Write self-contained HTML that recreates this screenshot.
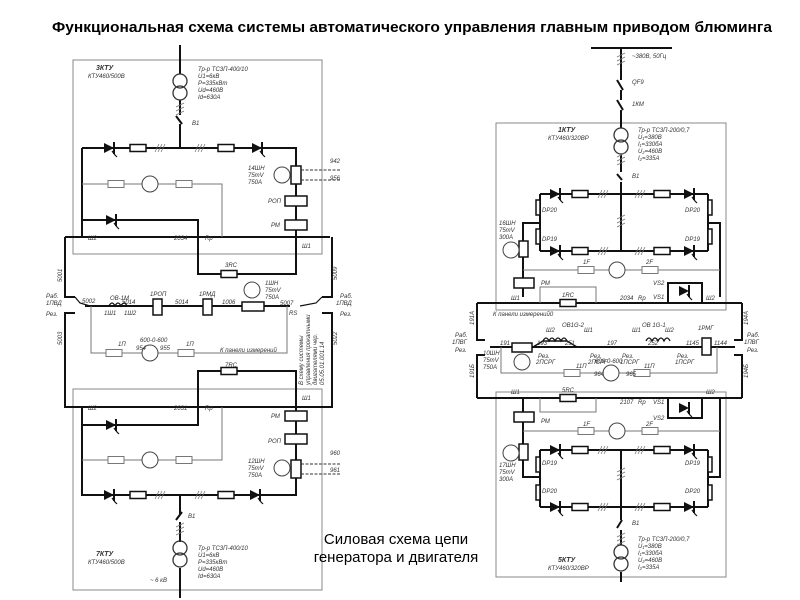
<!DOCTYPE html>
<html><head><meta charset="utf-8"><style>
html,body{margin:0;padding:0;background:#fff;}
svg{display:block}
.t{font-family:"Liberation Sans",sans-serif;font-style:italic;font-size:6px;fill:#333}
</style></head><body>
<svg width="800" height="600" viewBox="0 0 800 600" xmlns="http://www.w3.org/2000/svg">
<defs>
<g id="thy"><path d="M-6,-5 L4,0 L-6,5 Z" fill="#111"/><line x1="4" y1="-6" x2="4" y2="6" stroke="#111" stroke-width="2"/><polyline points="2,3 5,7 7,9" fill="none" stroke="#111" stroke-width="1.2"/></g>
<g id="fuse"><rect x="-8" y="-3.5" width="16" height="7" fill="#fff" stroke="#111" stroke-width="1.5"/></g>
<g id="fuseg"><rect x="-8" y="-3.5" width="16" height="7" fill="#fff" stroke="#777" stroke-width="1"/></g>
<g id="meter"><circle r="8" fill="#fff" stroke="#444" stroke-width="1"/></g>
<g id="hatch" stroke="#777" stroke-width="0.8"><line x1="-5" y1="4" x2="-1" y2="-4"/><line x1="-2" y1="4" x2="2" y2="-4"/><line x1="1" y1="4" x2="5" y2="-4"/></g>
<g id="hatchv" stroke="#777" stroke-width="0.8"><line x1="-4" y1="-3" x2="4" y2="-7"/><line x1="-4" y1="1" x2="4" y2="-3"/><line x1="-4" y1="5" x2="4" y2="1"/></g>
</defs>

<text x="52" y="32" textLength="720" lengthAdjust="spacingAndGlyphs" font-family="Liberation Sans,sans-serif" font-weight="bold" font-size="15" fill="#000">Функциональная схема системы автоматического управления главным приводом блюминга</text>

<!-- ===== LEFT ===== -->
<g fill="none" stroke="#888" stroke-width="1">
<rect x="73" y="60" width="249" height="194"/>
<rect x="73" y="389" width="249" height="201"/>
</g>
<g fill="none" stroke="#111" stroke-width="2">
<line x1="180" y1="45" x2="180" y2="74"/>
<line x1="180" y1="100" x2="180" y2="115"/>
<line x1="180" y1="124" x2="180" y2="148"/>
<line x1="176" y1="116" x2="182" y2="124"/>
<polyline points="82,148 296,148 296,274 198,274 198,237"/>
<polyline points="82,148 82,237"/>
<polyline points="82,220 198,220 198,237"/>
<polyline points="65,237 330,237"/>
<polyline points="65,237 65,297 75,297"/>
<polyline points="65,382 65,313 75,313"/>
<polyline points="332,237 332,297 322,297"/>
<polyline points="332,382 332,313 322,313"/>
<polyline points="85,306 290,306"/>
<polyline points="65,382 65,407 330,407 332,407 332,382"/>
<polyline points="198,407 198,371 296,371 296,495 82,495 82,407"/>
<polyline points="82,425 198,425 198,407"/>
<line x1="180" y1="495" x2="180" y2="514"/>
<line x1="176" y1="520" x2="182" y2="512"/>
<line x1="180" y1="522" x2="180" y2="542"/>
<line x1="180" y1="568" x2="180" y2="598"/>
</g>
<g stroke="#111" stroke-width="1.2" fill="none">
<polyline points="75,297 80,303 90,306"/>
<polyline points="322,297 316,303 300,306"/>
</g>
<g fill="none" stroke="#333" stroke-width="1.3">
<circle cx="180" cy="81" r="7"/><circle cx="180" cy="93" r="7"/>
<circle cx="180" cy="548" r="7"/><circle cx="180" cy="560" r="7"/>
</g>
<g fill="none" stroke="#777" stroke-width="1">
<polyline points="82,184 222,184 222,237"/>
<polyline points="82,460 222,460 222,407"/>
<polyline points="91,306 91,353 287,353 287,306"/>
</g>
<use href="#thy" x="110" y="148"/><use href="#thy" x="258" y="148"/>
<use href="#fuse" x="138" y="148"/><use href="#fuse" x="226" y="148"/>
<use href="#hatch" x="160" y="148"/><use href="#hatch" x="200" y="148"/>
<use href="#hatchv" x="180" y="110"/><use href="#hatchv" x="180" y="530"/>
<use href="#fuseg" x="116" y="184"/><use href="#fuseg" x="184" y="184"/><use href="#meter" x="150" y="184"/>
<use href="#thy" x="112" y="220"/>
<use href="#fuse" x="229" y="274"/>
<use href="#fuse" x="229" y="371"/>
<use href="#thy" x="112" y="425"/>
<use href="#fuseg" x="116" y="460"/><use href="#fuseg" x="184" y="460"/><use href="#meter" x="150" y="460"/>
<use href="#thy" x="110" y="495"/><use href="#thy" x="256" y="495"/>
<use href="#fuse" x="138" y="495"/><use href="#fuse" x="226" y="495"/>
<use href="#hatch" x="160" y="495"/><use href="#hatch" x="200" y="495"/>
<use href="#fuseg" x="114" y="353"/><use href="#fuseg" x="186" y="353"/><use href="#meter" x="150" y="353"/>
<g fill="#fff" stroke="#111" stroke-width="1.5">
<rect x="291" y="166" width="10" height="18"/>
<rect x="285" y="196" width="22" height="10"/>
<rect x="285" y="220" width="22" height="10"/>
<rect x="285" y="411" width="22" height="10"/>
<rect x="285" y="434" width="22" height="10"/>
<rect x="291" y="460" width="10" height="18"/>
<rect x="153" y="299" width="9" height="16"/>
<rect x="203" y="299" width="9" height="16"/>
<rect x="242" y="302" width="22" height="9"/>
</g>
<g stroke="#333" stroke-width="1" stroke-dasharray="3,1.5" fill="none">
<line x1="301" y1="170" x2="340" y2="170"/><line x1="301" y1="180" x2="340" y2="180"/>
<line x1="301" y1="464" x2="340" y2="464"/><line x1="301" y1="474" x2="340" y2="474"/>
</g>
<use href="#meter" x="282" y="175"/><use href="#meter" x="282" y="468"/><use href="#meter" x="252" y="290"/>
<path d="M109,306 q3,-6 6,0 q3,-6 6,0 q3,-6 6,0" fill="none" stroke="#111" stroke-width="1.3"/>
<g class="t">
<text x="96" y="70" font-weight="bold" font-size="7">3КТУ</text><text x="88" y="78">КТУ460/500В</text>
<text x="198" y="71">Тр-р ТС3П-400/10</text><text x="198" y="78">U1=6кВ</text><text x="198" y="85">P=335кВт</text><text x="198" y="92">Ud=460В</text><text x="198" y="99">Id=630A</text>
<text x="192" y="125">B1</text>
<text x="248" y="170">14ШН</text><text x="248" y="177">75mV</text><text x="248" y="184">750A</text>
<text x="268" y="203">РОП</text><text x="271" y="227">РМ</text>
<text x="88" y="240">Ш2</text><text x="174" y="240">2034</text><text x="205" y="240">Rp</text><text x="302" y="248">Ш1</text>
<text x="225" y="267">3RC</text><text x="330" y="163">942</text><text x="330" y="180">956</text>
<text x="82" y="303">5002</text><text x="110" y="300">OB-1M</text><text x="104" y="315">1Ш1</text><text x="124" y="315">1Ш2</text>
<text x="122" y="304">5014</text><text x="150" y="296">1РОП</text><text x="175" y="304">5014</text><text x="199" y="296">1РМД</text><text x="222" y="304">1006</text>
<text x="265" y="285">1ШН</text><text x="265" y="292">75mV</text><text x="265" y="299">750A</text><text x="280" y="305">5007</text><text x="289" y="315">RS</text>
<text x="118" y="346">1П</text><text x="140" y="342">600-0-600</text><text x="136" y="350">954</text><text x="160" y="350">955</text><text x="186" y="346">1П</text>
<text x="220" y="352">К панели измерений</text>
<text x="46" y="298">Раб.</text><text x="46" y="305">1ПВД</text><text x="46" y="316">Рез.</text>
<text x="340" y="298">Раб.</text><text x="336" y="305">1ПВД</text><text x="340" y="316">Рез.</text>
<text x="225" y="367">7RC</text>
<text x="88" y="410">Ш2</text><text x="174" y="410">2031</text><text x="205" y="410">Rp</text><text x="302" y="400">Ш1</text>
<text x="271" y="418">РМ</text><text x="268" y="443">РОП</text>
<text x="248" y="463">12ШН</text><text x="248" y="470">75mV</text><text x="248" y="477">750A</text>
<text x="330" y="455">960</text><text x="330" y="472">961</text><text x="188" y="518">B1</text>
<text x="96" y="556" font-weight="bold" font-size="7">7КТУ</text><text x="88" y="564">КТУ460/500В</text><text x="150" y="582">~ 6 кВ</text>
<text x="198" y="550">Тр-р ТС3П-400/10</text><text x="198" y="557">U1=6кВ</text><text x="198" y="564">P=335кВт</text><text x="198" y="571">Ud=460В</text><text x="198" y="578">Id=630A</text>
<text transform="translate(62,282) rotate(-90)">5001</text><text transform="translate(62,345) rotate(-90)">5003</text>
<text transform="translate(337,280) rotate(-90)">5009</text><text transform="translate(337,345) rotate(-90)">5022</text>
<text transform="translate(303,385) rotate(-90)">В схему системы</text><text transform="translate(310,385) rotate(-90)">управления прокатными</text><text transform="translate(317,385) rotate(-90)">двигателями чер.</text><text transform="translate(324,385) rotate(-90)">05.05.01.001.14</text>
</g>

<!-- ===== RIGHT ===== -->
<g fill="none" stroke="#888" stroke-width="1">
<rect x="496" y="123" width="230" height="187"/>
<rect x="496" y="392" width="230" height="185"/>
</g>
<g fill="none" stroke="#111" stroke-width="2">
<line x1="591" y1="48" x2="672" y2="48"/>
<polyline points="621,48 621,80"/><line x1="617" y1="80" x2="623" y2="90"/><polyline points="621,90 621,100"/><line x1="617" y1="100" x2="623" y2="110"/><line x1="621" y1="110" x2="621" y2="128"/>
<line x1="621" y1="155" x2="621" y2="172"/><line x1="617" y1="174" x2="622" y2="180"/><line x1="621" y1="182" x2="621" y2="251"/>
<polyline points="540,194 708,194"/><polyline points="540,251 708,251"/>
<polyline points="540,194 540,251"/><polyline points="708,194 708,251"/>
<polyline points="540,223 523,223 523,297"/>
<polyline points="708,223 720,223 720,297"/>
<polyline points="477,303 742,303"/>
<polyline points="477,303 477,340 485,340"/><polyline points="477,398 477,355 485,355"/>
<polyline points="742,303 742,340 734,340"/><polyline points="742,398 742,355 734,355"/>
<polyline points="490,347 735,347"/>
<polyline points="477,398 742,398"/>
<polyline points="523,398 523,477 540,477"/><polyline points="720,398 720,477 708,477"/>
<polyline points="540,450 708,450"/><polyline points="540,507 708,507"/>
<polyline points="540,450 540,507"/><polyline points="708,450 708,507"/>
<line x1="621" y1="450" x2="621" y2="520"/><line x1="617" y1="528" x2="622" y2="520"/><line x1="621" y1="530" x2="621" y2="545"/>
<line x1="621" y1="572" x2="621" y2="582"/>
<rect x="668" y="283" width="34" height="20"/><rect x="668" y="398" width="34" height="20"/>
</g>
<g fill="none" stroke="#333" stroke-width="1.3">
<circle cx="621" cy="135" r="7"/><circle cx="621" cy="147" r="7"/>
<circle cx="621" cy="552" r="7"/><circle cx="621" cy="564" r="7"/>
</g>
<g fill="none" stroke="#777" stroke-width="1">
<polyline points="523,270 720,270"/><polyline points="523,431 720,431"/>
<polyline points="540,303 540,287 596,287 596,303"/>
<polyline points="540,398 540,412 596,412 596,398"/>
<polyline points="501,347 501,373 717,373 717,347"/>
</g>
<use href="#thy" x="556" y="194"/><use href="#thy" x="690" y="194"/>
<use href="#fuse" x="580" y="194"/><use href="#fuse" x="662" y="194"/>
<use href="#thy" x="556" y="251"/><use href="#thy" x="690" y="251"/>
<use href="#fuse" x="580" y="251"/><use href="#fuse" x="662" y="251"/>
<use href="#hatch" x="603" y="194"/><use href="#hatch" x="640" y="194"/><use href="#hatch" x="603" y="251"/><use href="#hatch" x="640" y="251"/>
<use href="#hatchv" x="621" y="60"/><use href="#hatchv" x="621" y="160"/><use href="#hatchv" x="621" y="222"/>
<use href="#fuseg" x="586" y="270"/><use href="#fuseg" x="650" y="270"/><use href="#meter" x="617" y="270"/>
<use href="#fuse" x="568" y="303"/><use href="#fuse" x="568" y="398"/>
<use href="#thy" x="685" y="291"/><use href="#thy" x="685" y="408"/>
<use href="#fuseg" x="586" y="431"/><use href="#fuseg" x="650" y="431"/><use href="#meter" x="617" y="431"/>
<use href="#fuseg" x="572" y="373"/><use href="#fuseg" x="642" y="373"/><use href="#meter" x="611" y="373"/>
<use href="#thy" x="556" y="450"/><use href="#thy" x="690" y="450"/>
<use href="#fuse" x="580" y="450"/><use href="#fuse" x="662" y="450"/>
<use href="#thy" x="556" y="507"/><use href="#thy" x="690" y="507"/>
<use href="#fuse" x="580" y="507"/><use href="#fuse" x="662" y="507"/>
<use href="#hatch" x="603" y="450"/><use href="#hatch" x="640" y="450"/><use href="#hatch" x="603" y="507"/><use href="#hatch" x="640" y="507"/>
<use href="#hatchv" x="621" y="475"/><use href="#hatchv" x="621" y="540"/>
<g fill="#fff" stroke="#111" stroke-width="1.5">
<rect x="519" y="241" width="9" height="16"/><rect x="514" y="278" width="20" height="10"/>
<rect x="514" y="412" width="20" height="10"/><rect x="519" y="444" width="9" height="16"/>
<rect x="512" y="343" width="20" height="9"/><rect x="702" y="338" width="9" height="17"/>
<rect x="536" y="200" width="4" height="15"/><rect x="536" y="229" width="4" height="15"/>
<rect x="708" y="200" width="4" height="15"/><rect x="708" y="229" width="4" height="15"/>
<rect x="536" y="457" width="4" height="15"/><rect x="536" y="485" width="4" height="15"/>
<rect x="708" y="457" width="4" height="15"/><rect x="708" y="485" width="4" height="15"/>
</g>
<use href="#meter" x="511" y="250"/><use href="#meter" x="511" y="453"/><use href="#meter" x="522" y="362"/>
<path d="M543,341 q3,-6 6,0 q3,-6 6,0 q3,-6 6,0 q3,-6 6,0 M646,341 q3,-6 6,0 q3,-6 6,0 q3,-6 6,0 q3,-6 6,0" fill="none" stroke="#111" stroke-width="1.3"/>
<polyline points="533,347 543,341 567,341 577,347 M631,347 643,341 670,341 680,347" fill="none" stroke="#111" stroke-width="1.5"/>
<g class="t">
<text x="632" y="58">~380В, 50Гц</text><text x="632" y="84">QF9</text><text x="632" y="106">1КМ</text>
<text x="558" y="132" font-weight="bold" font-size="7">1КТУ</text><text x="548" y="140">КТУ460/320ВР</text>
<text x="638" y="132">Тр-р ТС3П-200/0,7</text><text x="638" y="139">U₁=380В</text><text x="638" y="146">I₁=330бА</text><text x="638" y="153">U₂=460В</text><text x="638" y="160">I₂=335А</text>
<text x="632" y="178">B1</text>
<text x="542" y="212">DP20</text><text x="685" y="212">DP20</text><text x="542" y="241">DP19</text><text x="685" y="241">DP19</text>
<text x="499" y="225">16ШН</text><text x="499" y="232">75mV</text><text x="499" y="239">300A</text>
<text x="583" y="264">1F</text><text x="646" y="264">2F</text><text x="541" y="285">РМ</text>
<text x="653" y="285">VS2</text><text x="653" y="299">VS1</text>
<text x="511" y="300">Ш1</text><text x="562" y="297">1RC</text><text x="620" y="300">2034</text><text x="638" y="300">Rp</text><text x="706" y="300">Ш2</text>
<text x="493" y="316">К панели измерений0</text>
<text x="455" y="337">Раб.</text><text x="452" y="344">1ПВГ</text><text x="455" y="352">Рез.</text>
<text x="747" y="337">Раб.</text><text x="744" y="344">1ПВГ</text><text x="747" y="352">Рез.</text>
<text x="483" y="355">10ШН</text><text x="483" y="362">75mV</text><text x="483" y="369">750A</text>
<text x="500" y="345">191</text><text x="537" y="345">193</text><text x="565" y="345">251</text><text x="607" y="345">197</text><text x="648" y="345">252</text><text x="686" y="345">1145</text><text x="714" y="345">1144</text>
<text x="546" y="332">Ш2</text><text x="562" y="327">OB1G-2</text><text x="584" y="332">Ш1</text><text x="632" y="332">Ш1</text><text x="642" y="327">OB 1G-1</text><text x="665" y="332">Ш2</text><text x="698" y="330">1РМГ</text>
<text x="538" y="358">Рез.</text><text x="536" y="364">2ПСРГ</text><text x="590" y="358">Рез.</text><text x="588" y="364">2ПСРГ</text><text x="622" y="358">Рез.</text><text x="620" y="364">1ПСРГ</text><text x="677" y="358">Рез.</text><text x="675" y="364">1ПСРГ</text>
<text x="595" y="363">600-0-600</text><text x="576" y="368">11П</text><text x="644" y="368">11П</text><text x="594" y="376">964</text><text x="626" y="376">965</text>
<text x="511" y="394">Ш1</text><text x="562" y="392">5RC</text><text x="620" y="404">2107</text><text x="638" y="404">Rp</text><text x="653" y="404">VS1</text><text x="706" y="394">Ш2</text>
<text x="541" y="423">РМ</text><text x="653" y="420">VS2</text><text x="583" y="426">1F</text><text x="646" y="426">2F</text>
<text x="542" y="465">DP19</text><text x="685" y="465">DP19</text><text x="542" y="493">DP20</text><text x="685" y="493">DP20</text>
<text x="499" y="467">17ШН</text><text x="499" y="474">75mV</text><text x="499" y="481">300A</text>
<text x="632" y="525">B1</text>
<text x="558" y="562" font-weight="bold" font-size="7">5КТУ</text><text x="548" y="570">КТУ460/320ВР</text>
<text x="638" y="541">Тр-р ТС3П-200/0,7</text><text x="638" y="548">U₁=380В</text><text x="638" y="555">I₁=330бА</text><text x="638" y="562">U₂=460В</text><text x="638" y="569">I₂=335А</text>
<text transform="translate(474,325) rotate(-90)">191A</text><text transform="translate(474,378) rotate(-90)">191Б</text>
<text transform="translate(748,325) rotate(-90)">194A</text><text transform="translate(748,378) rotate(-90)">194Б</text>
</g>

<text x="396" y="544" text-anchor="middle" font-family="Liberation Sans,sans-serif" font-size="15" fill="#000">Силовая схема цепи</text>
<text x="396" y="562" text-anchor="middle" font-family="Liberation Sans,sans-serif" font-size="15" fill="#000">генератора и двигателя</text>
</svg>
</body></html>
